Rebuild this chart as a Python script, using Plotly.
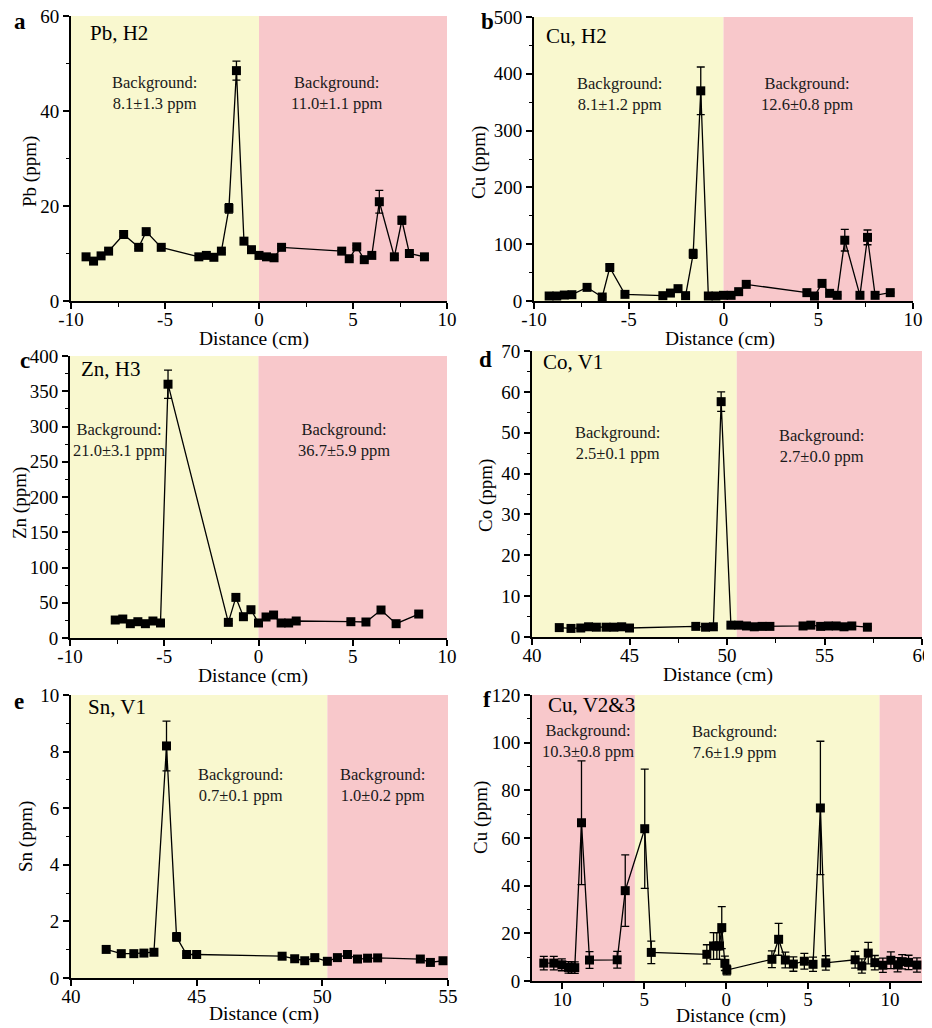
import plotly.graph_objects as go

OFF = 8                  # default page margin of the html body
W, H = 932 - OFF, 1028 - OFF

# ---------------- data ----------------
pb_x = [-9.2, -8.8, -8.4, -8.0, -7.2, -6.4, -6.0, -5.2, -3.2, -2.8, -2.4, -2.0, -1.6, -1.2, -0.8,
        -0.4, 0.0, 0.4, 0.8, 1.2, 4.4, 4.8, 5.2, 5.6, 6.0, 6.4, 7.2, 7.6, 8.0, 8.8]
pb_y = [9.3, 8.4, 9.5, 10.5, 14.0, 11.3, 14.6, 11.3, 9.3, 9.6, 9.2, 10.5, 19.5, 48.5, 12.6,
        10.8, 9.6, 9.3, 9.1, 11.3, 10.5, 8.9, 11.4, 8.7, 9.6, 20.9, 9.3, 17.0, 10.0, 9.3]
pb_err = [0.3, 0.3, 0.3, 0.3, 0.4, 0.3, 0.4, 0.3, 0.3, 0.3, 0.3, 0.3, 1.0, 2.0, 0.4,
          0.3, 0.3, 0.3, 0.3, 0.3, 0.3, 0.3, 0.3, 0.3, 0.3, 2.4, 0.3, 0.8, 0.3, 0.3]

cuh_x = [-9.2, -8.8, -8.4, -8.0, -7.2, -6.4, -6.0, -5.2, -3.2, -2.8, -2.4, -2.0, -1.6, -1.2, -0.8,
         -0.4, 0.0, 0.4, 0.8, 1.2, 4.4, 4.8, 5.2, 5.6, 6.0, 6.4, 7.2, 7.6, 8.0, 8.8]
cuh_y = [8.8, 8.8, 10.5, 11.1, 24, 7, 59, 11.7, 9.4, 14, 21.7, 9.4, 83, 370, 8.8,
         8.8, 10, 10, 16.4, 29.3, 14.7, 8.8, 31, 13.5, 10, 107, 10, 112, 10, 14.7]
cuh_err = [1, 1, 1, 1, 2, 1, 5, 1, 1, 1, 2, 1, 8, 42, 1,
           1, 1, 1, 1, 2, 1, 1, 2, 1, 1, 19, 1, 13, 1, 1]

zn_x = [-7.6, -7.2, -6.8, -6.4, -6.0, -5.6, -5.2, -4.8, -1.6, -1.2, -0.8, -0.4, 0.0, 0.4, 0.8,
        1.2, 1.6, 2.0, 4.9, 5.7, 6.5, 7.3, 8.5]
zn_y = [25.5, 26.9, 20.3, 23.1, 20.3, 24.1, 21.3, 360, 22.2, 57.6, 30.2, 40.1, 21.3, 29.8, 32.6,
        21.3, 21.3, 24.1, 23.1, 22.7, 39.7, 20.3, 34]
zn_err = [2, 2, 2, 2, 2, 2, 2, 20, 2, 3, 2, 2, 2, 2, 2, 2, 2, 2, 2, 2, 2, 2, 2]

co_x = [41.4, 42.0, 42.5, 42.9, 43.3, 43.8, 44.2, 44.6, 45.0, 48.4, 48.9, 49.3, 49.7, 50.2,
        50.6, 51.0, 51.4, 51.8, 52.2, 53.9, 54.3, 54.8, 55.2, 55.6, 56.0, 56.4, 57.2]
co_y = [2.3, 2.1, 2.2, 2.5, 2.4, 2.4, 2.4, 2.5, 2.2, 2.6, 2.4, 2.5, 57.6, 2.9,
        2.9, 2.7, 2.5, 2.6, 2.6, 2.7, 2.9, 2.6, 2.7, 2.7, 2.5, 2.7, 2.4]
co_err = [0.2] * 12 + [2.4] + [0.2] * 14

sn_x = [41.4, 42.0, 42.5, 42.9, 43.3, 43.8, 44.2, 44.6, 45.0, 48.4, 48.9, 49.3, 49.7, 50.2,
        50.6, 51.0, 51.4, 51.8, 52.2, 53.9, 54.3, 54.8]
sn_y = [1.01, 0.86, 0.86, 0.88, 0.91, 8.2, 1.45, 0.83, 0.83, 0.77, 0.68, 0.61, 0.72, 0.59,
        0.72, 0.83, 0.67, 0.70, 0.71, 0.67, 0.55, 0.61]
sn_err = [0.03, 0.03, 0.03, 0.03, 0.03, 0.88, 0.15, 0.03, 0.03, 0.03, 0.03, 0.03, 0.03, 0.03,
          0.03, 0.03, 0.03, 0.03, 0.03, 0.03, 0.03, 0.03]

# position along the V2&3 profile (left half is mirrored: labelled distances are absolute)
cuv_x = [-11.13, -10.52, -10.03, -9.62, -9.44, -9.24, -8.83, -8.34, -6.65, -6.16, -4.97, -4.57,
         -1.18, -0.77, -0.57, -0.41, -0.27, -0.08, 0.04, 2.79, 3.2, 3.61, 4.1, 4.77, 5.3, 5.75,
         6.08, 7.87, 8.28, 8.67, 9.07, 9.56, 10.05, 10.46, 10.74, 11.13, 11.64]
cuv_y = [7.5, 7.5, 6.8, 5.7, 5.6, 5.6, 66.4, 8.8, 8.9, 37.9, 63.9, 12.0,
         11.2, 14.7, 14.7, 14.7, 22.4, 7.4, 4.6, 9.1, 17.5, 8.8, 7.1, 8.3, 7.0, 72.6,
         7.6, 8.9, 6.3, 11.7, 7.7, 6.6, 8.7, 6.8, 8.1, 7.8, 6.7]
cuv_err = [2.8, 2.8, 2.5, 2.4, 2.4, 2.4, 26, 3.5, 3.5, 15, 25, 4.7,
           4, 5.6, 5.6, 5.6, 8.8, 3, 2, 3.5, 6.7, 3.3, 3, 3.3, 3, 28,
           3, 3.5, 3, 4.5, 3, 3, 3.5, 3, 3, 3, 3]

h_tickvals = [-10, -5, 0, 5, 10]
h_ticktext = ["-10", "-5", "0", "5", "10"]
v1_tickvals = [40, 45, 50, 55, 60]
v1_ticktext = ["40", "45", "50", "55", "60"]
cuv_tickvals = [-10, -5, 0, 5, 10]
cuv_ticktext = ["10", "5", "0", "5", "10"]

YELLOW = "#F9F8CF"
PINK = "#F8C8CB"
FONT = "Liberation Serif"

# ---------------- panel layout (page pixel coordinates) ----------------
panels = [
    dict(key="a", x=pb_x, y=pb_y, e=pb_err, px=(71, 447), py=(16, 301),
         xr=[-10, 10], tv=h_tickvals, tt=h_ticktext, xm=2.5, yr=[0, 60], yd=20, ym=10,
         ytitle="Pb (ppm)",
         zones=[(-10, 0, YELLOW), (0, 10, PINK)], name="Pb, H2", name_xy=(88, 33),
         ytitle_xy=(30, 172), xtitle_xy=(254, 339),
         bg=[("Background:<br>8.1±1.3 ppm", 154, 93), ("Background:<br>11.0±1.1 ppm", 337, 93)],
         lab_xy=(12, 22)),
    dict(key="b", x=cuh_x, y=cuh_y, e=cuh_err, px=(534, 913), py=(17, 301),
         xr=[-10, 10], tv=h_tickvals, tt=h_ticktext, xm=2.5, yr=[0, 500], yd=100, ym=50,
         ytitle="Cu (ppm)",
         zones=[(-10, 0, YELLOW), (0, 10, PINK)], name="Cu, H2", name_xy=(544, 36),
         ytitle_xy=(479, 163), xtitle_xy=(720, 339),
         bg=[("Background:<br>8.1±1.2 ppm", 619, 94), ("Background:<br>12.6±0.8 ppm", 807, 94)],
         lab_xy=(479, 22)),
    dict(key="c", x=zn_x, y=zn_y, e=zn_err, px=(70, 447), py=(356, 638),
         xr=[-10, 10], tv=h_tickvals, tt=h_ticktext, xm=2.5, yr=[0, 400], yd=50, ym=25,
         ytitle="Zn (ppm)",
         zones=[(-10, 0, YELLOW), (0, 10, PINK)], name="Zn, H3", name_xy=(79, 369),
         ytitle_xy=(20, 503), xtitle_xy=(253, 676),
         bg=[("Background:<br>21.0±3.1 ppm", 119, 440), ("Background:<br>36.7±5.9 ppm", 344, 440)],
         lab_xy=(18, 360)),
    dict(key="d", x=co_x, y=co_y, e=co_err, px=(532, 922), py=(351, 637),
         xr=[40, 60], tv=v1_tickvals, tt=v1_ticktext, xm=2.5, yr=[0, 70], yd=10, ym=5,
         ytitle="Co (ppm)",
         zones=[(40, 50.5, YELLOW), (50.5, 60, PINK)], name="Co, V1", name_xy=(541, 362),
         ytitle_xy=(486, 495), xtitle_xy=(718, 675),
         bg=[("Background:<br>2.5±0.1 ppm", 617, 443), ("Background:<br>2.7±0.0 ppm", 821, 446)],
         lab_xy=(477, 359)),
    dict(key="e", x=sn_x, y=sn_y, e=sn_err, px=(71, 448), py=(695, 978),
         xr=[40, 55], tv=v1_tickvals[:4], tt=v1_ticktext[:4], xm=2.5, yr=[0, 10], yd=2, ym=1,
         ytitle="Sn (ppm)",
         zones=[(40, 50.2, YELLOW), (50.2, 55, PINK)], name="Sn, V1", name_xy=(86, 707),
         ytitle_xy=(26, 837), xtitle_xy=(264, 1014),
         bg=[("Background:<br>0.7±0.1 ppm", 241, 785), ("Background:<br>1.0±0.2 ppm", 382, 785)],
         lab_xy=(12, 701)),
    dict(key="f", x=cuv_x, y=cuv_y, e=cuv_err, px=(532, 922), py=(695, 981),
         xr=[-11.85, 11.95], tv=cuv_tickvals, tt=cuv_ticktext, xm=2.5, yr=[0, 120], yd=20, ym=10,
         ytitle="Cu (ppm)",
         zones=[(-11.85, -5.57, PINK), (-5.57, 9.36, YELLOW), (9.36, 11.95, PINK)],
         name="Cu, V2&3", name_xy=(546, 705),
         ytitle_xy=(481, 817), xtitle_xy=(731, 1016),
         bg=[("Background:<br>10.3±0.8 ppm", 588, 741), ("Background:<br>7.6±1.9 ppm", 734, 742)],
         lab_xy=(481, 699)),
]


def fx(p):
    return (p - OFF) / W


def fy(p):
    return 1 - (p - OFF) / H


fig = go.Figure()
shapes = []
annotations = []
layout = {}

for i, p in enumerate(panels):
    n = "" if i == 0 else str(i + 1)
    xa, ya = "xaxis" + n, "yaxis" + n
    xref, yref = "x" + n, "y" + n

    fig.add_trace(go.Scatter(
        x=p["x"], y=p["y"], xaxis=xref, yaxis=yref, mode="lines+markers",
        line=dict(color="black", width=1.3),
        marker=dict(symbol="square", size=9, color="black"),
        error_y=dict(type="data", array=p["e"], visible=True, color="black",
                     thickness=1.3, width=4),
        cliponaxis=False, showlegend=False, hoverinfo="x+y"))

    layout[xa] = dict(domain=[fx(p["px"][0]), fx(p["px"][1])], range=p["xr"], anchor=yref,
                      showgrid=False, zeroline=False, showline=True, linecolor="black",
                      linewidth=2, ticks="outside", ticklen=6, tickwidth=1.5, tickcolor="black",
                      tickmode="array", tickvals=p["tv"], ticktext=p["tt"],
                      ticklabelstandoff=-6, ticklabeloverflow="allow",
                      minor=dict(ticks="outside", ticklen=3.5, tickwidth=1.2, tickcolor="black",
                                 dtick=p["xm"], tick0=0),
                      tickfont=dict(family=FONT, size=19, color="black"), automargin=False,
                      fixedrange=True)
    layout[ya] = dict(domain=[fy(p["py"][1]), fy(p["py"][0])], range=p["yr"], anchor=xref,
                      showgrid=False, zeroline=False, showline=True, linecolor="black",
                      linewidth=2, ticks="outside", ticklen=6, tickwidth=1.5, tickcolor="black",
                      dtick=p["yd"], tick0=0, ticklabeloverflow="allow",
                      minor=dict(ticks="outside", ticklen=3.5, tickwidth=1.2, tickcolor="black",
                                 dtick=p["ym"], tick0=0),
                      tickfont=dict(family=FONT, size=19, color="black"), automargin=False,
                      fixedrange=True)

    for (x0, x1, col) in p["zones"]:
        shapes.append(dict(type="rect", xref=xref, yref=yref + " domain", x0=x0, x1=x1,
                           y0=0, y1=1, fillcolor=col, line=dict(width=0), layer="below"))

    annotations.append(dict(text="<b>" + p["key"] + "</b>", x=fx(p["lab_xy"][0]),
                            y=fy(p["lab_xy"][1]), xref="paper", yref="paper",
                            xanchor="left", yanchor="middle", showarrow=False,
                            font=dict(family=FONT, size=23, color="black")))
    annotations.append(dict(text=p["name"], x=fx(p["name_xy"][0]), y=fy(p["name_xy"][1]),
                            xref="paper", yref="paper", xanchor="left", yanchor="middle",
                            showarrow=False, font=dict(family=FONT, size=21, color="black")))
    for (t, bx, by) in p["bg"]:
        annotations.append(dict(text=t, x=fx(bx), y=fy(by), xref="paper", yref="paper",
                                xanchor="center", yanchor="middle", showarrow=False,
                                align="center",
                                font=dict(family=FONT, size=16.5, color="#1a1a1a")))
    annotations.append(dict(text="Distance (cm)", x=fx(p["xtitle_xy"][0]),
                            y=fy(p["xtitle_xy"][1]), xref="paper", yref="paper",
                            xanchor="center", yanchor="middle", showarrow=False,
                            font=dict(family=FONT, size=19.5, color="black")))
    annotations.append(dict(text=p["ytitle"], x=fx(p["ytitle_xy"][0]), y=fy(p["ytitle_xy"][1]),
                            xref="paper", yref="paper", xanchor="center", yanchor="middle",
                            textangle=-90, showarrow=False,
                            font=dict(family=FONT, size=19, color="black")))

fig.update_layout(width=W, height=H, margin=dict(l=0, r=0, t=0, b=0),
                  paper_bgcolor="white", plot_bgcolor="white", showlegend=False,
                  shapes=shapes, annotations=annotations, **layout)

fig.write_html("out.html")
